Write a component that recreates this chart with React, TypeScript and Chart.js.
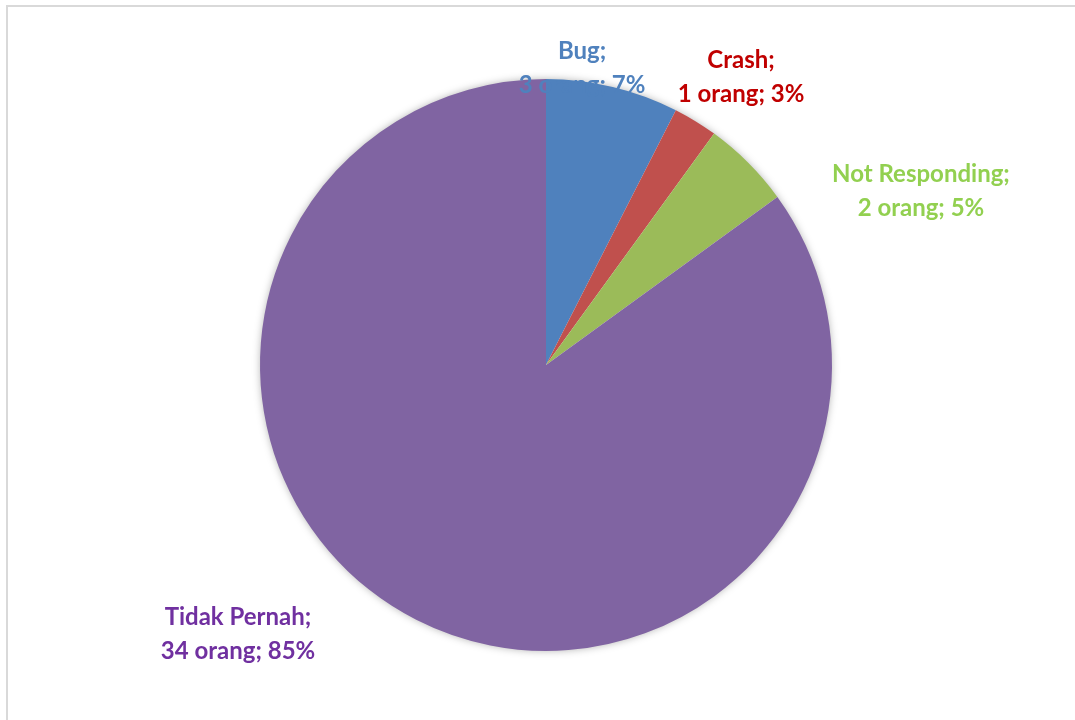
import React, { useEffect, useRef } from "react";
import { Chart, registerables } from "chart.js";

Chart.register(...registerables);

const categories = ["Bug", "Crash", "Not Responding", "Tidak Pernah"];
const counts = [3, 1, 2, 34];
const percentLabels = ["7%", "3%", "5%", "85%"];
const sliceColors = ["#4F81BD", "#C0504D", "#9BBB59", "#8064A2"];
const labelColors = ["#4F81BD", "#C00000", "#92D050", "#7030A0"];
// label centres relative to pie centre, in units of radius
const labelOffsets = [
  [0.126, -1.04],
  [0.682, -1.009],
  [1.311, -0.61],
  [-1.077, 0.939],
];

const labelPlugin = {
  id: "sliceLabels",
  beforeDatasetsDraw(chart: any) {
    const meta = chart.getDatasetMeta(0);
    const arc = meta.data[0];
    if (!arc) return;
    const ctx = chart.ctx;
    ctx.save();
    ctx.shadowColor = "rgba(0,0,0,0.35)";
    ctx.shadowBlur = 9;
    ctx.shadowOffsetX = 0;
    ctx.shadowOffsetY = 0;
    ctx.fillStyle = "#ffffff";
    ctx.beginPath();
    ctx.arc(arc.x, arc.y, arc.outerRadius - 1, 0, Math.PI * 2);
    ctx.fill();
    ctx.restore();
  },
  afterDatasetsDraw(chart: any) {
    const meta = chart.getDatasetMeta(0);
    const ctx = chart.ctx;
    ctx.save();
    ctx.font = "bold 24px Lato, 'Noto Sans', sans-serif";
    ctx.textAlign = "center";
    ctx.textBaseline = "middle";
    meta.data.forEach((arc: any, i: number) => {
      const r = arc.outerRadius;
      const cx = arc.x + labelOffsets[i][0] * r;
      const cy = arc.y + labelOffsets[i][1] * r;
      ctx.fillStyle = labelColors[i];
      ctx.fillText(categories[i] + ";", cx, cy - 16);
      ctx.fillText(counts[i] + " orang; " + percentLabels[i], cx, cy + 18);
    });
    ctx.restore();
  },
};

export default function App() {
  const ref = useRef<HTMLCanvasElement | null>(null);
  useEffect(() => {
    if (!ref.current) return;
    const chart = new Chart(ref.current, {
      type: "pie",
      data: {
        labels: categories,
        datasets: [
          {
            data: counts,
            backgroundColor: sliceColors,
            borderWidth: 0,
          },
        ],
      },
      options: {
        responsive: false,
        animation: false,
        layout: { padding: { top: 79, bottom: 69, left: 260, right: 243 } },
        plugins: {
          legend: { display: false },
          tooltip: { enabled: false },
        },
      },
      plugins: [labelPlugin],
    });
    return () => chart.destroy();
  }, []);
  return (
    <div
      style={{
        position: "absolute",
        left: 0,
        top: 0,
        width: 1075,
        height: 720,
        background: "#ffffff",
      }}
    >
      <div
        style={{
          position: "absolute",
          left: 6,
          top: 5,
          width: 1069,
          height: 715,
          borderTop: "2px solid #d9d9d9",
          borderLeft: "2px solid #d9d9d9",
          boxSizing: "border-box",
        }}
      />
      <canvas
        ref={ref}
        width={1075}
        height={720}
        style={{ position: "absolute", left: 0, top: 0 }}
      />
    </div>
  );
}
